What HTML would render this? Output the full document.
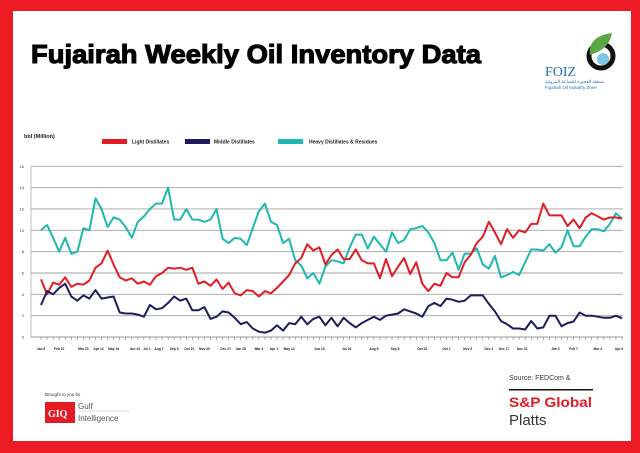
<!DOCTYPE html>
<html><head><meta charset="utf-8"><style>
html,body{margin:0;padding:0;background:#ed1c24;}
svg{display:block;font-family:"Liberation Sans",sans-serif;}
</style></head><body>
<svg id="c" width="640" height="453" viewBox="0 0 640 453" xmlns="http://www.w3.org/2000/svg">
<rect x="0" y="0" width="640" height="453" fill="#ed1c24"/>
<rect x="13" y="11" width="618" height="430" fill="#ffffff"/>
<text x="31" y="63" font-size="26" font-weight="bold" fill="#000" textLength="450" lengthAdjust="spacingAndGlyphs" stroke="#000" stroke-width="1.1">Fujairah Weekly Oil Inventory Data</text>
<g>
<circle cx="601" cy="56" r="12" fill="none" stroke="#111" stroke-width="5"/>
<circle cx="603" cy="59" r="6" fill="#7ec6e6"/>
<path d="M590 55 C588 43 596 35 612 33 C610 45 602 51 590 55 Z" fill="#5aa843"/>
<text x="545" y="76" font-family="Liberation Serif,serif" font-size="14" fill="#1d6fb8">FOIZ</text>
<text x="545" y="83" font-size="4.5" fill="#1d6fb8" font-family="Liberation Sans,'Noto Sans CJK SC',sans-serif">منطقة الفجيرة للصناعة البترولية</text>
<text x="545" y="89" font-size="4.5" fill="#1d6fb8">Fujairah Oil Industry Zone</text>
</g>
<text x="24" y="138" font-size="5.5" font-weight="bold" fill="#222">bbl (Million)</text>
<g id="legend">
<rect x="102" y="139" width="25" height="5" fill="#e31b23"/>
<text x="132" y="143.5" font-size="5" font-weight="bold" fill="#222">Light Distillates</text>
<rect x="185" y="139" width="25" height="5" fill="#1c1c5e"/>
<text x="214" y="143.5" font-size="5" font-weight="bold" fill="#222">Middle Distillates</text>
<rect x="278" y="139" width="25" height="5" fill="#1fb8b0"/>
<text x="309" y="143.5" font-size="5" font-weight="bold" fill="#222">Heavy Distillates &amp; Residues</text>
</g>
<g id="plot"></g>
<g>
<text x="45" y="396" font-size="4.5" fill="#333">Brought to you by</text>
<rect x="45" y="402" width="30" height="21" fill="#e31b23"/>
<text x="48" y="417" font-size="10" font-weight="bold" fill="#fff" font-family="Liberation Serif,serif">GIQ</text>
<line x1="78" y1="411" x2="130" y2="411" stroke="#bbb" stroke-width="0.5"/>
<text x="78" y="409" font-size="8" fill="#555">Gulf</text>
<text x="78" y="421" font-size="8" fill="#555">Intelligence</text>
<text x="509" y="380" font-size="7" fill="#333">Source: FEDCom &amp;</text>
<rect x="509" y="389" width="84" height="1.5" fill="#111"/>
<text x="509" y="407" font-size="14" font-weight="bold" fill="#e31b23" textLength="83" lengthAdjust="spacingAndGlyphs">S&amp;P Global</text>
<text x="509" y="425" font-size="15" fill="#333">Platts</text>
</g>
</svg>
<script>
const yTicks=[0,2,4,6,8,10,12,14,16];
const xLabels=["Jan 6","Feb 10","Mar 23","Apr 14","May 19","Jun 23","Jul 1","Aug 7","Sep 8","Oct 10","Nov 20","Dec 27","Jan 28","Mar 3","Apr 1","May 14","Jun 15","Jul 16","Aug 6","Sep 8","Oct 20","Oct 1","Nov 5","Dec 3","Dec 17","Dec 31","Jan 4","Feb 7","Mar 4","Apr 8"];
const xLabelWeeks=[0,3,7,9.5,12,15.5,17.5,19.5,22,24.5,27,30.5,33,36,38.5,41,46,50.5,55,58.5,63,67,70.5,74,76.5,79.5,85,88,92,95.5];
const light=[5.4,4.0,5.1,4.9,5.6,4.7,5.0,4.9,5.3,6.5,6.9,8.1,6.8,5.6,5.3,5.5,5.0,5.2,4.9,5.7,6.0,6.5,6.4,6.5,6.3,6.5,5.0,5.2,4.8,5.4,4.5,5.1,4.1,3.9,4.4,4.3,3.8,4.3,4.1,4.6,5.2,5.8,6.9,7.4,8.7,8.1,8.4,6.8,7.7,8.2,7.3,7.3,8.2,7.2,6.9,6.9,5.5,7.3,5.7,6.6,7.4,5.9,7.0,5.0,4.3,5.0,4.8,6.0,5.6,5.6,7.0,7.7,8.8,9.4,10.8,9.8,8.7,10.1,9.3,10.0,9.8,10.6,10.6,12.5,11.4,11.4,11.4,10.4,11.0,10.2,11.2,11.6,11.3,11.0,11.2,11.2,11.1];
const middle=[3.0,4.3,4.0,4.6,5.0,3.8,3.4,3.9,3.6,4.4,3.6,3.7,3.8,2.3,2.2,2.2,2.1,1.9,3.0,2.6,2.7,3.2,3.8,3.4,3.6,2.5,2.5,2.8,1.7,1.9,2.4,2.3,1.8,1.2,1.4,0.8,0.5,0.4,0.6,1.1,0.6,1.3,1.2,1.9,1.2,1.7,1.9,1.1,1.8,1.0,1.8,1.3,0.9,1.3,1.6,1.9,1.6,2.0,2.1,2.2,2.6,2.4,2.2,1.9,2.9,3.2,2.9,3.6,3.5,3.3,3.4,3.9,3.9,3.9,3.1,2.4,1.5,1.2,0.8,0.8,0.7,1.5,0.8,0.9,2.0,2.0,1.0,1.3,1.45,2.3,2.0,2.0,1.9,1.8,1.8,2.0,1.75];
const heavy=[10.0,10.5,9.3,8.0,9.3,7.8,8.0,10.2,10.0,13.0,12.0,10.3,11.2,11.0,10.3,9.3,10.8,11.3,12.0,12.5,12.5,14.0,11.0,11.0,12.0,11.0,11.0,10.8,11.0,12.0,9.2,8.8,9.3,9.2,8.6,10.2,11.8,12.5,10.8,10.5,8.8,9.2,7.2,6.7,5.5,6.0,5.0,6.6,7.2,7.1,6.9,8.4,9.6,9.6,8.3,9.4,8.7,8.0,9.8,8.8,9.1,10.1,10.2,10.4,9.8,8.8,7.2,7.2,7.9,6.3,7.8,7.8,8.3,6.8,6.4,7.6,5.6,5.8,6.1,5.8,7.0,8.2,8.2,8.1,8.7,7.9,8.4,10.0,8.5,8.5,9.4,10.1,10.1,9.9,10.6,11.6,11.1];

const NS="http://www.w3.org/2000/svg";
const plot=document.getElementById('plot');
const X0=41,X1=622,GX0=31,GX1=623,Y0=337,Y1=166.3,VMAX=16;
const nW=light.length;
function xs(i){return X0+(X1-X0)*i/(nW-1);}
function ys(v){return Y0-(Y0-Y1)*v/VMAX;}
function mk(tag,attrs){const e=document.createElementNS(NS,tag);for(const k in attrs)e.setAttribute(k,attrs[k]);plot.appendChild(e);return e;}

yTicks.forEach(t=>{
  const g=mk('line',{x1:GX0,x2:GX1,y1:ys(t),y2:ys(t),stroke:t===0?'#777':'#a0a0a0','stroke-width':t===0?0.8:0.9});
  
  
  const lb=mk('text',{x:24,y:ys(t)+1.5,'font-size':4,'text-anchor':'end',fill:'#333'});
  lb.textContent=t;
  
  
});
const ax=mk('line',{x1:GX0,x2:GX0,y1:Y1,y2:Y0,stroke:'#999','stroke-width':0.6});


for(let i=0;i<nW;i++){
  const tk=mk('line',{x1:xs(i),x2:xs(i),y1:Y0,y2:Y0+3,stroke:'#666','stroke-width':0.5});
  
  
}
xLabels.forEach((l,k)=>{
  const t=mk('text',{x:xs(xLabelWeeks[k]),y:350,'font-size':3.3,'font-weight':'bold','text-anchor':'middle',fill:'#222'});
  t.textContent=l;
  
  
});
function series(arr,color,name){
  const d=arr.map((v,i)=>(i?'L':'M')+xs(i).toFixed(1)+' '+ys(v).toFixed(1)).join(' ');
  const p=mk('path',{d:d,fill:'none',stroke:color,'stroke-width':2,'stroke-linejoin':'round'});
  
  
}
series(heavy,'#1fb8b0','heavy-distillates-line');
series(light,'#e31b23','light-distillates-line');
series(middle,'#1c1c5e','middle-distillates-line');
</script>
</body></html>
